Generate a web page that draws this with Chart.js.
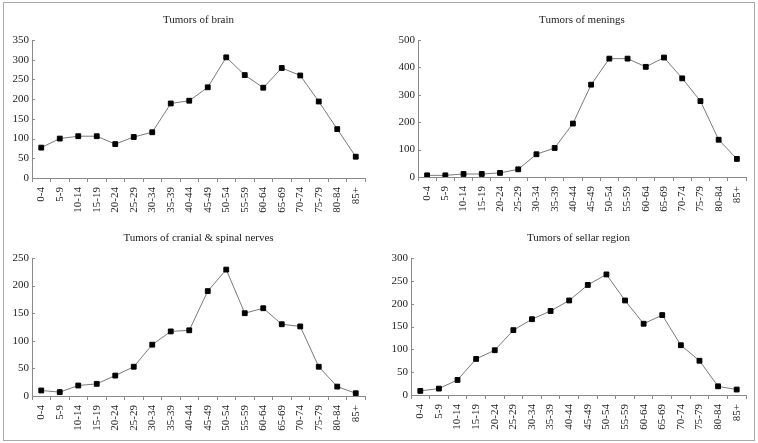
<!DOCTYPE html>
<html>
<head>
<meta charset="utf-8">
<script src="https://cdn.jsdelivr.net/npm/chart.js@4.4.0/dist/chart.umd.min.js"></script>
<style>
  body { margin: 0; background: #fff; }
  #frame { position: absolute; left: 3px; top: 2px; width: 750px; height: 437px; border: 1px solid #a8a8a8; }
  .panel { position: absolute; }
</style>
</head>
<body>
<div id="frame"></div>
<div class="panel" style="left:0;top:0;width:379px;height:220px"><canvas id="brain"></canvas></div>
<div class="panel" style="left:379px;top:0;width:379px;height:220px"><canvas id="menings"></canvas></div>
<div class="panel" style="left:0;top:220px;width:379px;height:222px"><canvas id="nerves"></canvas></div>
<div class="panel" style="left:379px;top:220px;width:379px;height:222px"><canvas id="sellar"></canvas></div>
<script>
const ageGroups = ["0-4", "5-9", "10-14", "15-19", "20-24", "25-29", "30-34", "35-39", "40-44",
  "45-49", "50-54", "55-59", "60-64", "65-69", "70-74", "75-79", "80-84", "85+"];

const brainValues = [77, 100, 106, 106, 86, 104, 116, 189, 196, 230, 306, 261, 229, 279, 260, 194, 124, 54];
const meningsValues = [6, 6, 11, 11, 15, 28, 83, 106, 195, 337, 432, 432, 402, 436, 360, 277, 136, 66];
const nervesValues = [10, 7, 19, 22, 37, 53, 93, 117, 119, 190, 229, 150, 159, 130, 126, 53, 17, 5];
const sellarValues = [9, 14, 33, 79, 98, 142, 166, 184, 207, 241, 264, 207, 156, 175, 109, 75, 19, 12];

const brainTicks = [0, 50, 100, 150, 200, 250, 300, 350];
const meningsTicks = [0, 100, 200, 300, 400, 500];
const nervesTicks = [0, 50, 100, 150, 200, 250];
const sellarTicks = [0, 50, 100, 150, 200, 250, 300];

const FONT = "'Liberation Serif', 'DejaVu Serif', serif";
const AXIS = "#8a8a8a";

// title centred over the plot, y-ticks pointing inward
const panelDecor = {
  id: "panelDecor",
  afterDraw(chart, args, opts) {
    const { ctx, chartArea } = chart;
    const y = chart.scales.y;
    ctx.save();
    ctx.strokeStyle = AXIS;
    ctx.lineWidth = 1;
    y.ticks.forEach((t, i) => {
      const py = Math.round(y.getPixelForTick(i)) + 0.5;
      ctx.beginPath();
      ctx.moveTo(chartArea.left, py);
      ctx.lineTo(chartArea.left + 3, py);
      ctx.stroke();
    });
    ctx.fillStyle = "#222";
    ctx.font = "11px " + FONT;
    ctx.textAlign = "center";
    ctx.textBaseline = "middle";
    ctx.fillText(opts.title, (chartArea.left + chartArea.right) / 2, opts.titleY);
    ctx.restore();
  }
};

function makePanel(id, title, values, ticks, box) {
  const stepSize = ticks[1] - ticks[0];
  new Chart(document.getElementById(id), {
    type: "line",
    data: {
      labels: ageGroups,
      datasets: [{
        data: values,
        borderColor: "#7a7a7a",
        borderWidth: 1,
        pointStyle: "rect",
        pointRadius: 3.4,
        pointBorderWidth: 1,
        pointBackgroundColor: "#000",
        pointBorderColor: "#000",
        tension: 0,
      }],
    },
    options: {
      responsive: true,
      maintainAspectRatio: false,
      animation: false,
      layout: { padding: { top: box.top, right: box.right, left: 0, bottom: 0 } },
      plugins: {
        legend: { display: false },
        tooltip: { enabled: false },
        panelDecor: { title: title, titleY: box.titleY },
      },
      scales: {
        x: {
          offset: true,
          grid: { display: true, drawOnChartArea: false, drawTicks: true, tickLength: 4, color: AXIS, offset: true },
          border: { display: true, color: AXIS, width: 1 },
          ticks: {
            autoSkip: false, maxRotation: 90, minRotation: 90, padding: 5,
            color: "#222", font: { family: FONT, size: 11 },
          },
          afterFit: (s) => { s.height = box.xh; },
        },
        y: {
          min: ticks[0],
          max: ticks[ticks.length - 1],
          grid: { display: true, drawOnChartArea: false, drawTicks: false },
          border: { display: true, color: AXIS, width: 1 },
          ticks: {
            stepSize: stepSize, padding: 3,
            color: "#222", font: { family: FONT, size: 11 },
          },
          afterFit: (s) => { s.width = box.left; },
        },
      },
    },
    plugins: [panelDecor],
  });
}

makePanel("brain", "Tumors of brain", brainValues, brainTicks,
  { top: 40, right: 14, left: 32, xh: 42, titleY: 20 });
makePanel("menings", "Tumors of menings", meningsValues, meningsTicks,
  { top: 40, right: 12, left: 39, xh: 43, titleY: 20 });
makePanel("nerves", "Tumors of cranial & spinal nerves", nervesValues, nervesTicks,
  { top: 38, right: 14, left: 32, xh: 46, titleY: 18 });
makePanel("sellar", "Tumors of sellar region", sellarValues, sellarTicks,
  { top: 38, right: 12, left: 32, xh: 47, titleY: 18 });
</script>
</body>
</html>
